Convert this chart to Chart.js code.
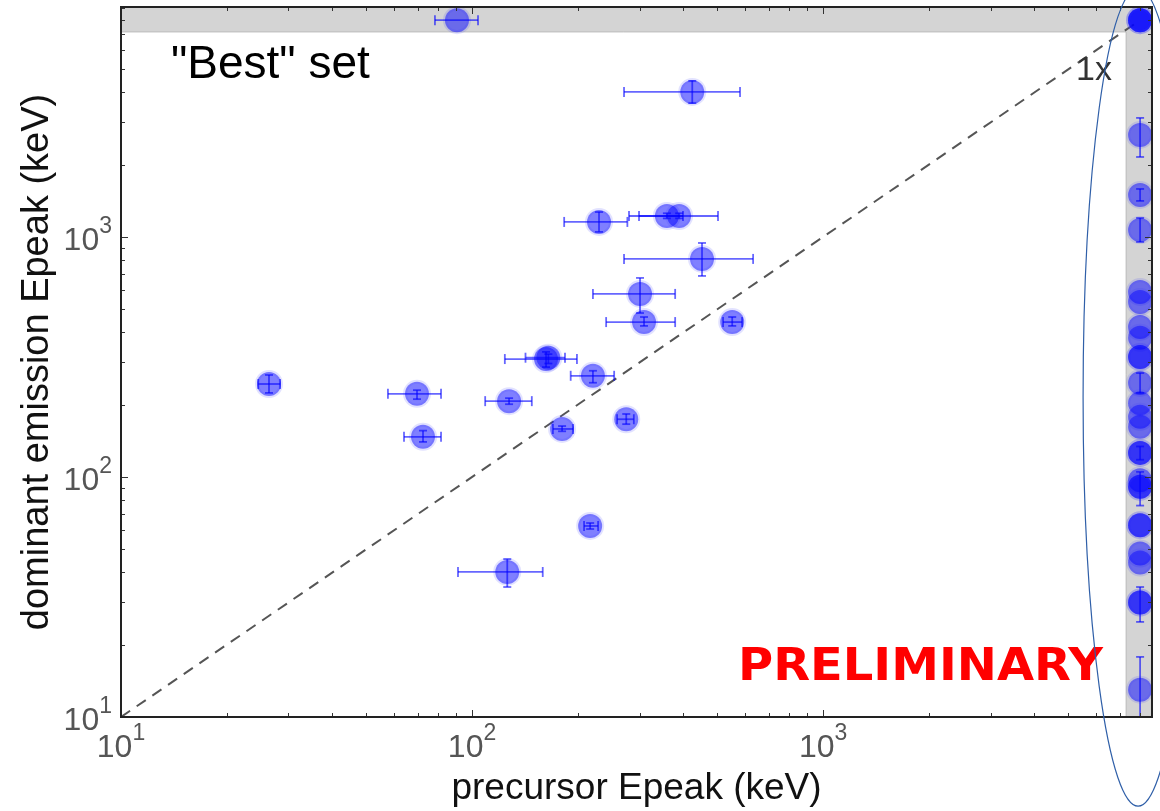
<!DOCTYPE html>
<html>
<head>
<meta charset="utf-8">
<title>Precursor vs dominant emission Epeak</title>
<script src="https://cdn.jsdelivr.net/npm/chart.js@4.4.1/dist/chart.umd.min.js"></script>
<style>
  html, body { margin: 0; padding: 0; background: #fff; }
  #wrap { width: 1160px; height: 811px; position: relative; }
</style>
</head>
<body>
<div id="wrap"><canvas id="epeak"></canvas></div>
<script>
    const FONT = '"Liberation Sans", Arial, Helvetica, sans-serif';

    // bursts with a measured precursor: precursor Epeak (x) vs dominant emission Epeak (y), keV
    const precEpeak = [90.6, 424, 230, 359, 389, 452, 301, 309, 551, 26.4, 69.7, 72.5, 127.5, 162.5, 165, 221, 180.5, 275, 217, 126];
    const precLo    = [78.4, 271, 183, 280, 299, 271, 221, 241, 519, 24.6, 57.6, 64.0, 109, 124, 142, 191, 170, 259, 208.5, 91.2];
    const precHi    = [104, 580, 277, 399, 502, 632, 379, 379, 588, 28.4, 81.6, 81.6, 148, 199, 184, 254, 194, 289, 228.6, 159];
    const mainEpeak = [8000, 4020, 1155, 1223, 1223, 810, 579, 442, 442, 244, 222, 147, 207, 310, 314, 264, 158.5, 174, 62.5, 40.2];
    const mainLo    = [null, 3610, 1050, 1195, 1195, 688, 482, 426, 426, 224, 211, 140, 201, 287, 297, 247, 155, 166, 60.7, 34.8];
    const mainHi    = [null, 4470, 1270, 1255, 1255, 944, 675, 464, 464, 266, 230, 156, 213, 332, 325, 277, 163, 183, 64.3, 45.5];

    // bursts without a usable precursor Epeak, parked in the strip at NO_PREC_X
    const NO_PREC_X = 8000;
    const bandEpeak = [8000, 8000, 8000, 2661, 1496, 1069, 590, 536, 422, 380, 316, 316, 246.5, 203, 178, 162, 126, 126, 97, 91, 91, 63, 63, 48, 44, 30, 30, 13];
    const bandLo    = [null, null, null, 2154, 1413, 953, null, null, null, null, null, null, 224, null, null, null, 118, null, null, 76, null, null, null, null, null, 24.9, null, 9.5];
    const bandHi    = [null, null, null, 3133, 1585, 1200, null, null, null, null, null, null, 271, null, null, null, 134, null, null, 105, null, null, null, null, null, 34.8, null, 17.8];

    const X_MIN = 10, X_MAX = 8650;
    const Y_MIN = 10, Y_MAX = 9080;
    const BAND_X = 7300;   // left edge of the "no precursor Epeak" strip
    const BAND_Y = 7150;   // lower edge of the "no main Epeak" strip
    const decades = [10, 100, 1000];
    const decadeExp = ["1", "2", "3"];
    const unityLine = [10, 8000];

    const marker = {
        pointRadius: 12,
        pointHoverRadius: 12,
        pointBackgroundColor: "rgba(0, 0, 255, 0.5)",
        pointBorderColor: "rgba(60, 60, 255, 0.15)",
        pointBorderWidth: 4,
        clip: { left: 16, top: 16, right: 0, bottom: 16 },
        order: 1,
    };

    function seg(ctx, x0, y0, x1, y1) {
        ctx.beginPath();
        ctx.moveTo(x0, y0);
        ctx.lineTo(x1, y1);
        ctx.stroke();
    }

    // grey strips for the unmeasured values
    const strips = {
        id: "strips",
        beforeDatasetsDraw(chart) {
            const { ctx, chartArea: a, scales: { x, y } } = chart;
            const bx = x.getPixelForValue(BAND_X);
            const by = y.getPixelForValue(BAND_Y);
            ctx.save();
            ctx.fillStyle = "#d4d4d4";
            ctx.fillRect(a.left, a.top, a.right - a.left, by - a.top);
            ctx.fillRect(bx, a.top, a.right - bx, a.bottom - a.top);
            ctx.strokeStyle = "#bababa";
            ctx.lineWidth = 1;
            seg(ctx, a.left, by, bx, by);
            seg(ctx, bx, by, bx, a.bottom);
            ctx.restore();
        }
    };

    const errorBars = {
        id: "errorBars",
        afterDatasetsDraw(chart) {
            const { ctx, chartArea: a, scales: { x, y } } = chart;
            ctx.save();
            ctx.beginPath();
            ctx.rect(a.left, a.top, a.right - a.left, a.bottom - a.top);
            ctx.clip();
            ctx.strokeStyle = "rgba(0, 0, 255, 0.6)";
            ctx.lineWidth = 1.8;
            chart.data.datasets.forEach(ds => {
                const e = ds.err;
                if (!e) return;
                ds.data.forEach((p, i) => {
                    const cx = x.getPixelForValue(p.x);
                    const cy = y.getPixelForValue(p.y);
                    if (e.xLo && e.xLo[i] != null) {
                        const x0 = x.getPixelForValue(e.xLo[i]);
                        const x1 = x.getPixelForValue(e.xHi[i]);
                        seg(ctx, x0, cy, x1, cy);
                        seg(ctx, x0, cy - 5, x0, cy + 5);
                        seg(ctx, x1, cy - 5, x1, cy + 5);
                    }
                    if (e.yLo && e.yLo[i] != null) {
                        const y0 = y.getPixelForValue(e.yLo[i]);
                        const y1 = y.getPixelForValue(e.yHi[i]);
                        seg(ctx, cx, y0, cx, y1);
                        seg(ctx, cx - 4, y0, cx + 4, y0);
                        seg(ctx, cx - 4, y1, cx + 4, y1);
                    }
                });
            });
            ctx.restore();
        }
    };

    // box frame, inward log ticks on all sides, 10^n labels and the text notes
    const frame = {
        id: "frame",
        afterDraw(chart) {
            const { ctx, chartArea: a, scales: { x, y } } = chart;
            ctx.save();
            ctx.strokeStyle = "#333";
            ctx.lineWidth = 1;
            decades.forEach(d => {
                for (let m = 1; m <= 9; m++) {
                    const v = d * m;
                    const len = m === 1 ? 7 : 4;
                    if (v >= X_MIN && v <= X_MAX) {
                        const px = Math.round(x.getPixelForValue(v)) + 0.5;
                        seg(ctx, px, a.bottom, px, a.bottom - len);
                        seg(ctx, px, a.top, px, a.top + len);
                    }
                    if (v >= Y_MIN && v <= Y_MAX) {
                        const py = Math.round(y.getPixelForValue(v)) + 0.5;
                        seg(ctx, a.left, py, a.left + len, py);
                        seg(ctx, a.right, py, a.right - len, py);
                    }
                }
            });
            ctx.strokeStyle = "#222";
            ctx.lineWidth = 2;
            ctx.strokeRect(a.left, a.top, a.right - a.left, a.bottom - a.top);

            // tick labels as 10 with a raised exponent
            const big = "32px " + FONT, small = "23px " + FONT;
            ctx.fillStyle = "#555";
            ctx.textBaseline = "alphabetic";
            decades.forEach((d, i) => {
                ctx.font = big;
                const wb = ctx.measureText("10").width;
                ctx.font = small;
                const ws = ctx.measureText(decadeExp[i]).width;

                const px = x.getPixelForValue(d);
                const left = px - (wb + ws) / 2;
                ctx.textAlign = "left";
                ctx.font = big;
                ctx.fillText("10", left, a.bottom + 40);
                ctx.font = small;
                ctx.fillText(decadeExp[i], left + wb, a.bottom + 23);

                const py = y.getPixelForValue(d);
                const right = a.left - 9;
                ctx.font = big;
                ctx.fillText("10", right - ws - wb, py + 13);
                ctx.font = small;
                ctx.fillText(decadeExp[i], right - ws, py - 4);
            });

            ctx.textAlign = "left";
            ctx.fillStyle = "#000";
            ctx.font = "46px " + FONT;
            ctx.fillText('"Best" set', a.left + 50, a.top + 71);

            ctx.fillStyle = "#333";
            ctx.font = "34px " + FONT;
            ctx.fillText("1x", a.right - 76, a.top + 73);

            ctx.fillStyle = "#ff0000";
            ctx.font = 'bold 44px "DejaVu Sans", Verdana, sans-serif';
            const tw = ctx.measureText("PRELIMINARY").width;
            ctx.translate(a.right - 414, a.bottom - 37);
            ctx.scale(365 / tw, 1);
            ctx.fillText("PRELIMINARY", 0, 0);
            ctx.restore();

            // ring drawn round the no-precursor strip
            ctx.save();
            ctx.strokeStyle = "#2f5fa8";
            ctx.lineWidth = 1.2;
            ctx.beginPath();
            ctx.ellipse(x.getPixelForValue(NO_PREC_X) - 2, y.getPixelForValue(215), 55, 409, 0, 0, Math.PI * 2);
            ctx.stroke();
            ctx.restore();
        }
    };

    new Chart(document.getElementById("epeak"), {
        type: "scatter",
        data: {
            datasets: [
                {
                    data: unityLine.map(v => ({ x: v, y: v })),
                    showLine: true,
                    borderColor: "#555",
                    borderWidth: 2,
                    borderDash: [11, 8],
                    pointRadius: 0,
                    order: 2,
                },
                {
                    data: precEpeak.map((v, i) => ({ x: v, y: mainEpeak[i] })),
                    err: { xLo: precLo, xHi: precHi, yLo: mainLo, yHi: mainHi },
                    ...marker,
                },
                {
                    data: bandEpeak.map(v => ({ x: NO_PREC_X, y: v })),
                    err: { yLo: bandLo, yHi: bandHi },
                    ...marker,
                },
            ]
        },
        options: {
            responsive: true,
            maintainAspectRatio: false,
            animation: false,
            events: [],
            layout: { autoPadding: false, padding: { left: 0, right: 8, top: 7, bottom: 0 } },
            plugins: {
                legend: { display: false },
                tooltip: { enabled: false },
            },
            scales: {
                x: {
                    type: "logarithmic",
                    min: X_MIN,
                    max: X_MAX,
                    grid: { display: false },
                    border: { display: false },
                    ticks: { display: false },
                    title: {
                        display: true,
                        text: "precursor Epeak (keV)",
                        color: "#111",
                        font: { family: FONT, size: 37, lineHeight: 1.2 },
                        padding: { top: 0, bottom: 0 },
                    },
                    afterFit(s) { s.height = 94; },
                },
                y: {
                    type: "logarithmic",
                    min: Y_MIN,
                    max: Y_MAX,
                    grid: { display: false },
                    border: { display: false },
                    ticks: { display: false },
                    title: {
                        display: true,
                        text: "dominant emission Epeak (keV)",
                        color: "#111",
                        font: { family: FONT, size: 38, lineHeight: 1.2 },
                        padding: { top: 15, bottom: 0 },
                    },
                    afterFit(s) { s.width = 121; },
                },
            }
        },
        plugins: [strips, errorBars, frame]
    });
</script>
</body>
</html>
